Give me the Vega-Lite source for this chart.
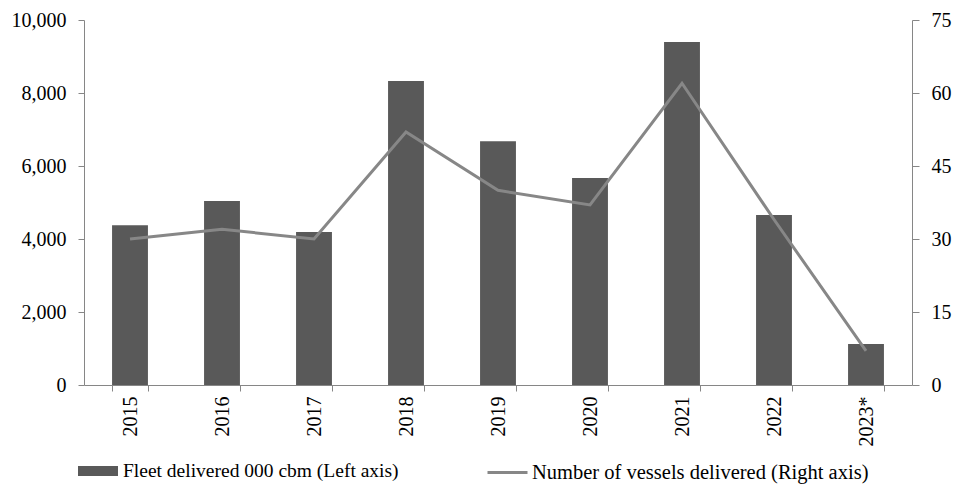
{
  "$schema": "https://vega.github.io/schema/vega-lite/v6.json",
  "width": 828,
  "height": 365,
  "autosize": {"type": "none"},
  "padding": {"left": 84, "top": 20, "right": 48, "bottom": 110},
  "background": "#ffffff",
  "config": {
    "font": "Liberation Serif",
    "view": {"stroke": null},
    "axis": {
      "labelFont": "Liberation Serif",
      "labelFontSize": 20,
      "labelColor": "#000000",
      "domainColor": "#868686",
      "tickColor": "#868686",
      "domainWidth": 1,
      "tickWidth": 1,
      "grid": false
    },
    "legend": {
      "labelFont": "Liberation Serif",
      "labelColor": "#000000",
      "labelLimit": 600,
      "padding": 0,
      "orient": "none"
    }
  },
  "data": {
    "values": [
      {"year": "2015", "fleet": 4380, "vessels": 30},
      {"year": "2016", "fleet": 5040, "vessels": 32},
      {"year": "2017", "fleet": 4190, "vessels": 30},
      {"year": "2018", "fleet": 8330, "vessels": 52},
      {"year": "2019", "fleet": 6680, "vessels": 40},
      {"year": "2020", "fleet": 5670, "vessels": 37},
      {"year": "2021", "fleet": 9400, "vessels": 62},
      {"year": "2022", "fleet": 4660, "vessels": 34},
      {"year": "2023*", "fleet": 1120, "vessels": 7}
    ]
  },
  "layer": [
    {
      "mark": {"type": "bar", "color": "#595959"},
      "encoding": {
        "x": {
          "field": "year",
          "type": "nominal",
          "sort": null,
          "scale": {"paddingInner": 0.61, "paddingOuter": 0.305},
          "axis": {
            "title": null,
            "tickBand": "extent",
            "labelFont": "Liberation Serif",
            "labelFontSize": 20,
            "labelAngle": -90,
            "labelAlign": "right",
            "labelBaseline": "middle",
            "tickSize": 6,
            "labelPadding": 5
          }
        },
        "y": {
          "field": "fleet",
          "type": "quantitative",
          "scale": {"domain": [0, 10000]},
          "axis": {
            "title": null,
            "orient": "left",
            "values": [0, 2000, 4000, 6000, 8000, 10000],
            "format": ",.0f",
            "labelFont": "Liberation Serif",
            "labelFontSize": 20,
            "tickSize": 6,
            "labelPadding": 12
          }
        },
        "color": {
          "datum": "Fleet delivered 000 cbm (Left axis)",
          "type": "nominal",
          "scale": {"range": ["#595959"]},
          "legend": {
            "title": null,
            "legendX": -6,
            "legendY": 431,
            "labelFontSize": 19.5,
            "symbolType": "M-1,-0.25L1,-0.25L1,0.25L-1,0.25Z",
            "symbolSize": 1600,
            "symbolStrokeWidth": 0,
            "labelOffset": 5
          }
        }
      }
    },
    {
      "mark": {"type": "line", "strokeWidth": 3, "color": "#878787"},
      "encoding": {
        "x": {"field": "year", "type": "nominal", "sort": null},
        "y": {
          "field": "vessels",
          "type": "quantitative",
          "scale": {"domain": [0, 75]},
          "axis": {
            "title": null,
            "orient": "right",
            "values": [0, 15, 30, 45, 60, 75],
            "labelFont": "Liberation Serif",
            "labelFontSize": 20,
            "tickSize": 7,
            "labelPadding": 12
          }
        },
        "stroke": {
          "datum": "Number of vessels delivered (Right axis)",
          "type": "nominal",
          "scale": {"range": ["#878787"]},
          "legend": {
            "title": null,
            "legendX": 402,
            "legendY": 431,
            "labelFontSize": 20.5,
            "symbolType": "M-1,0L1,0",
            "symbolSize": 1600,
            "symbolStrokeWidth": 3,
            "labelOffset": 3
          }
        }
      }
    }
  ],
  "resolve": {"scale": {"y": "independent", "color": "independent", "stroke": "independent"}}
}
